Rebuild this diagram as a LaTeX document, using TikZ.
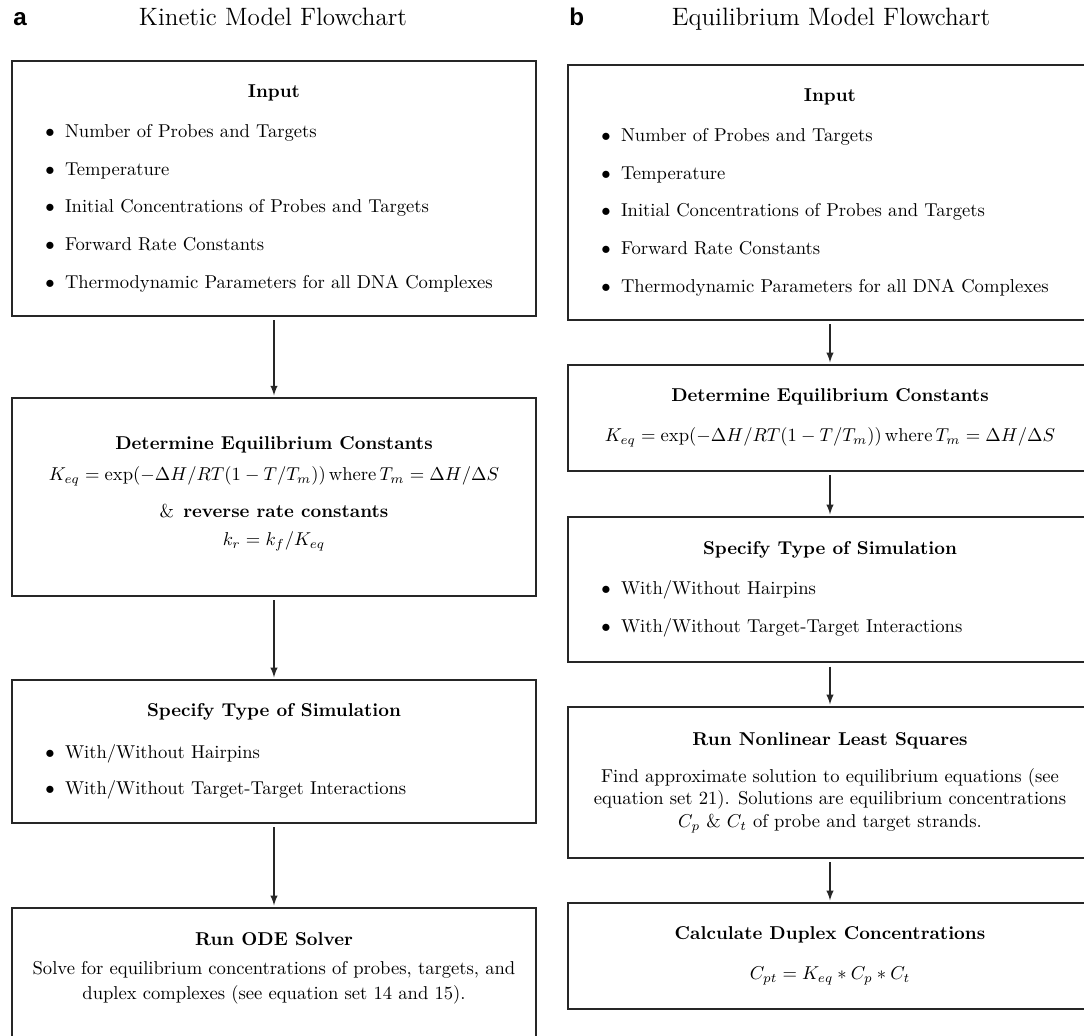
\documentclass[tikz,border=0pt]{standalone}
\usepackage{fontspec}
\newfontfamily\panelfont{Liberation Sans}
\newlength\boxtw
\setlength\boxtw{281.7pt}
% one bullet line, left aligned inside a box
\newcommand{\bline}[1]{\makebox[\boxtw][l]{\hspace*{18pt}$\bullet$\hspace{5.5pt}#1}}

\begin{document}
\begin{tikzpicture}[x=0.5376pt, y=-0.5376pt]
        \tikzstyle{flowbox}=[draw=black!85, line width=0.8pt, rectangle, inner xsep=0pt, text width=\boxtw, align=flush center, font=\normalsize]
        \tikzstyle{flowarrow}=[-latex, draw=black!85, line width=0.8pt, shorten <=2pt, shorten >=1pt]
        \tikzstyle{paneltitle}=[anchor=base, inner sep=0pt, font=\fontsize{13.5}{16}\selectfont]
        \tikzstyle{panellabel}=[anchor=base west, inner sep=0pt, font=\panelfont\bfseries\fontsize{13}{15}\selectfont]

        \useasboundingbox (0,0) rectangle (1084,1036);
        \clip (0,0) rectangle (1084,1036);

        % panel a
        \node[panellabel] (la) at (13,25) {a};
        \node[paneltitle] (ktitle) at (273,26) {Kinetic Model Flowchart};

        \node[flowbox, minimum height=137.1pt] (kin) at (274,188.5) {\textbf{Input}\\[9.5pt]
            \bline{Number of Probes and Targets}\\[8.2pt]
            \bline{Temperature}\\[8.2pt]
            \bline{Initial Concentrations of Probes and Targets}\\[8.2pt]
            \bline{Forward Rate Constants}\\[8.2pt]
            \bline{Thermodynamic Parameters for all DNA Complexes}};

        \node[flowbox, minimum height=106.4pt] (keq) at (274,497) {\textbf{Determine Equilibrium Constants}\\[4.7pt]
            $K_{eq} = \exp(-\Delta H/RT(1-T/T_m))\,\mathrm{where}\,T_m = \Delta H/\Delta S$\\[7.9pt]
            \&\enspace\textbf{reverse rate constants}\\[3.1pt]
            $k_r = k_f/K_{eq}$\\[-6pt]\mbox{}};

        \node[flowbox, minimum height=76.9pt] (ksim) at (274,751.5) {\textbf{Specify Type of Simulation}\\[10.5pt]
            \bline{With/Without Hairpins}\\[7.4pt]
            \bline{With/Without Target-Target Interactions}};

        \node[flowbox, minimum height=75.3pt] (kode) at (274,978) {\textbf{Run ODE Solver}\\[3.6pt]
            Solve for equilibrium concentrations of probes, targets, and\\[1.5pt]
            duplex complexes (see equation set 14 and 15).\\[1.3pt]\mbox{}};

        \draw[flowarrow] (kin) -- (keq);
        \draw[flowarrow] (keq) -- (ksim);
        \draw[flowarrow] (ksim) -- (kode);

        % panel b
        \node[panellabel] (lb) at (569,25) {b};
        \node[paneltitle] (etitle) at (831,26) {Equilibrium Model Flowchart};

        \node[flowbox, minimum height=137.1pt] (ein) at (830,192.5) {\textbf{Input}\\[9.5pt]
            \bline{Number of Probes and Targets}\\[8.2pt]
            \bline{Temperature}\\[8.2pt]
            \bline{Initial Concentrations of Probes and Targets}\\[8.2pt]
            \bline{Forward Rate Constants}\\[8.2pt]
            \bline{Thermodynamic Parameters for all DNA Complexes}};

        \node[flowbox, minimum height=57pt] (eeq) at (830,418) {\textbf{Determine Equilibrium Constants}\\[9.5pt]
            $K_{eq} = \exp(-\Delta H/RT(1-T/T_m))\,\mathrm{where}\,T_m = \Delta H/\Delta S$};

        \node[flowbox, minimum height=78pt] (esim) at (830,589.5) {\textbf{Specify Type of Simulation}\\[9.5pt]
            \bline{With/Without Hairpins}\\[8.2pt]
            \bline{With/Without Target-Target Interactions}};

        \node[flowbox, minimum height=81.2pt] (enls) at (830,782.5) {\textbf{Run Nonlinear Least Squares}\\[8pt]
            Find approximate solution to equilibrium equations (see\\
            equation set 21). Solutions are equilibrium concentrations\\
            $C_p$ \& $C_t$ of probe and target strands.};

        \node[flowbox, minimum height=57pt] (edup) at (830,956) {\textbf{Calculate Duplex Concentrations}\\[9.5pt]
            $C_{pt} = K_{eq} * C_p * C_t$};

        \draw[flowarrow] (ein) -- (eeq);
        \draw[flowarrow] (eeq) -- (esim);
        \draw[flowarrow] (esim) -- (enls);
        \draw[flowarrow] (enls) -- (edup);

    \end{tikzpicture}
\end{document}
